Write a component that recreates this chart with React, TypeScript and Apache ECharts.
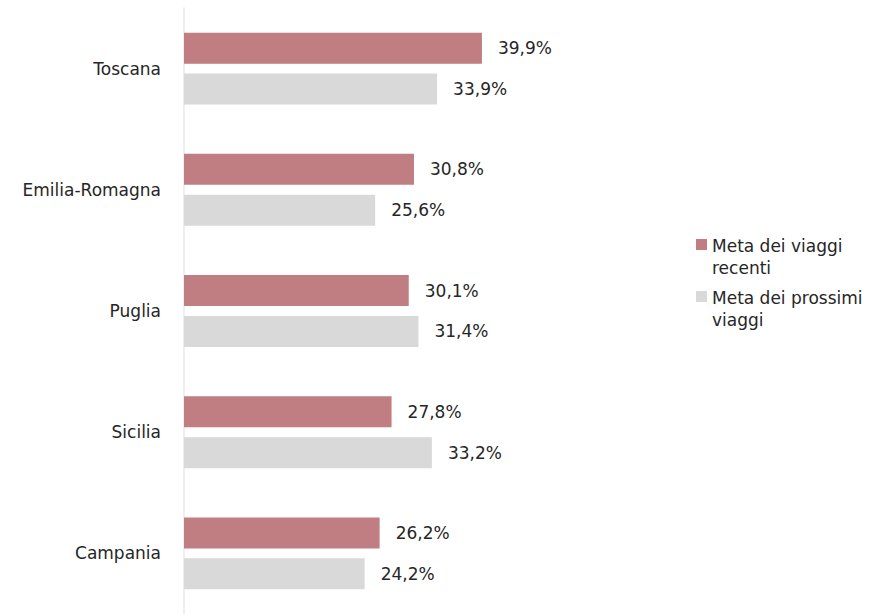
import React, { useEffect, useRef } from "react";
import * as echarts from "echarts";

const categories = ["Toscana", "Emilia-Romagna", "Puglia", "Sicilia", "Campania"];
const recenti = [39.9, 30.8, 30.1, 27.8, 26.2];
const prossimi = [33.9, 25.6, 31.4, 33.2, 24.2];
const seriesNames = ["Meta dei viaggi\nrecenti", "Meta dei prossimi\nviaggi"];

const FONT = "DejaVu Sans";
const TEXT = "#262626";

export default function App() {
  const ref = useRef<HTMLDivElement>(null);
  useEffect(() => {
    if (!ref.current) return;
    const chart = echarts.init(ref.current, null, { renderer: "svg" });
    const fmt = (p: any) => p.value.toFixed(1).replace(".", ",") + "%";
    const label = {
      show: true,
      position: "right",
      distance: 16,
      color: TEXT,
      fontFamily: FONT,
      fontSize: 17,
      formatter: fmt,
    };
    chart.setOption({
      animation: false,
      textStyle: { fontFamily: FONT },
      grid: { left: 184, top: 8, bottom: 0, width: 448, containLabel: false },
      xAxis: {
        type: "value",
        min: 0,
        max: 60,
        show: false,
      },
      yAxis: {
        type: "category",
        data: categories,
        inverse: true,
        axisLine: { show: true, lineStyle: { color: "#F0F0F0", width: 2 } },
        axisTick: { show: false },
        axisLabel: { margin: 23, color: TEXT, fontFamily: FONT, fontSize: 17 },
        splitLine: { show: false },
      },
      legend: {
        orient: "vertical",
        left: 691,
        top: 230,
        itemWidth: 11,
        itemHeight: 36,
        itemGap: 8,
        icon: "path://M0,0h11v11h-11z M0,36h11",
        textStyle: { color: TEXT, fontFamily: FONT, fontSize: 17, lineHeight: 22 },
        data: seriesNames,
      },
      series: [
        {
          name: seriesNames[0],
          type: "bar",
          data: recenti,
          barWidth: 31,
          barGap: "32%",
          itemStyle: { color: "#C07D82" },
          label,
        },
        {
          name: seriesNames[1],
          type: "bar",
          data: prossimi,
          barWidth: 31,
          barGap: "32%",
          itemStyle: { color: "#D9D9D9" },
          label,
        },
      ],
    });
    return () => chart.dispose();
  }, []);
  return (
    <div
      ref={ref}
      style={{ position: "absolute", left: 0, top: 0, width: 875, height: 614 }}
    />
  );
}
